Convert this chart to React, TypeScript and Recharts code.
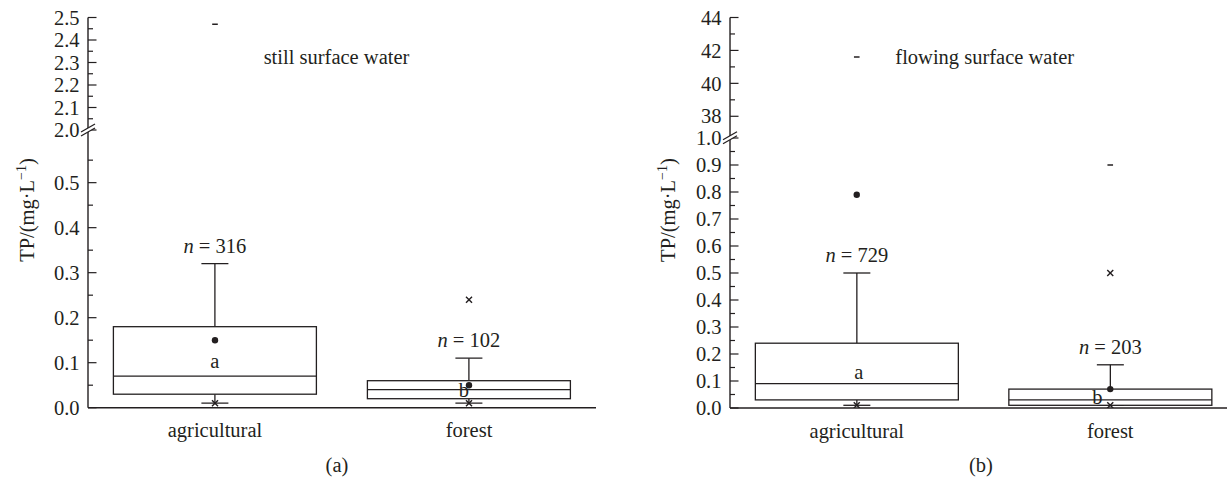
import React from "react"
import { ComposedChart, Bar, Line, XAxis, YAxis } from "recharts"

const categories = ["agricultural", "forest"]

// (a) still surface water
const stillN = [316, 102]
const stillLetters = ["a", "b"]
const stillWhiskerLow = [0.01, 0.01]
const stillQ1 = [0.03, 0.02]
const stillMedian = [0.07, 0.04]
const stillQ3 = [0.18, 0.06]
const stillWhiskerHigh = [0.32, 0.11]
const stillMean = [0.15, 0.05]
const stillP1 = [0.01, 0.01]
const stillP99 = [null, 0.24]
const stillMax = [2.47, null]
const stillUpperDomain = [2.0, 2.5]
const stillLowerDomain = [0, 0.617]
const stillUpperMajor = [2.0, 2.1, 2.2, 2.3, 2.4, 2.5]
const stillUpperMinor = [2.05, 2.15, 2.25, 2.35, 2.45]
const stillLowerMajor = [0, 0.1, 0.2, 0.3, 0.4, 0.5]
const stillLowerMinor = [0.05, 0.15, 0.25, 0.35, 0.45, 0.55]

// (b) flowing surface water
const flowN = [729, 203]
const flowLetters = ["a", "b"]
const flowWhiskerLow = [0.01, 0.01]
const flowQ1 = [0.03, 0.01]
const flowMedian = [0.09, 0.03]
const flowQ3 = [0.24, 0.07]
const flowWhiskerHigh = [0.5, 0.16]
const flowMean = [0.79, 0.07]
const flowP1 = [0.01, 0.01]
const flowP99 = [null, 0.5]
const flowMax = [41.6, 0.9]
const flowUpperDomain = [36.7, 44]
const flowLowerDomain = [0, 1.0]
const flowUpperMajor = [38, 40, 42, 44]
const flowUpperMinor = [39, 41, 43]
const flowLowerMajor = [0, 0.1, 0.2, 0.3, 0.4, 0.5, 0.6, 0.7, 0.8, 0.9, 1.0]
const flowLowerMinor = [0.05, 0.15, 0.25, 0.35, 0.45, 0.55, 0.65, 0.75, 0.85, 0.95]

const INK = "#231f20"
const FONT = '"Liberation Serif", "Times New Roman", serif'
const FS = 20.5
const PLOT_TOP = 17.5
const PLOT_BOTTOM = 407.7
const H = 478
const YAXIS_W = 60
const OVERLAP = 20
const TICK_MARGIN = 8.5
const CAP_W = 27

type Stats = {
  n: number[]
  letters: string[]
  lo: number[]
  q1: number[]
  med: number[]
  q3: number[]
  hi: number[]
  mean: (number | null)[]
  p1: (number | null)[]
  p99: (number | null)[]
  max: (number | null)[]
}

const still: Stats = {
  n: stillN, letters: stillLetters, lo: stillWhiskerLow, q1: stillQ1, med: stillMedian,
  q3: stillQ3, hi: stillWhiskerHigh, mean: stillMean, p1: stillP1, p99: stillP99, max: stillMax,
}
const flow: Stats = {
  n: flowN, letters: flowLetters, lo: flowWhiskerLow, q1: flowQ1, med: flowMedian,
  q3: flowQ3, hi: flowWhiskerHigh, mean: flowMean, p1: flowP1, p99: flowP99, max: flowMax,
}

function rowsFor(s: Stats, domain: number[], withBox: boolean) {
  const keep = (v: number | null) => (v != null && v >= domain[0] && v <= domain[1] ? v : null)
  return categories.map((name, i) => ({
    name,
    box: withBox ? [s.lo[i], s.hi[i]] : null,
    lo: s.lo[i],
    q1: s.q1[i],
    med: s.med[i],
    q3: s.q3[i],
    hi: s.hi[i],
    n: s.n[i],
    letter: s.letters[i],
    mean: keep(s.mean[i]),
    p1: keep(s.p1[i]),
    p99: keep(s.p99[i]),
    max: keep(s.max[i]),
  }))
}

// box + whiskers, positions taken from the bar the library laid out for [lo, hi]
const BoxShape = (props: any) => {
  const { x, y, width, height, payload, index, letterDx } = props
  if (!payload || !payload.box || height == null || isNaN(height)) return <g />
  const [lo, hi] = payload.box
  const top = Math.min(y, y + height)
  const h = Math.abs(height)
  const py = (v: number) => top + (h * (hi - v)) / (hi - lo)
  const cx = x + width / 2
  const yq1 = py(payload.q1)
  const yq3 = py(payload.q3)
  const ldx = letterDx ? letterDx[index] || 0 : 0
  return (
    <g>
      <line x1={cx} x2={cx} y1={py(hi)} y2={yq3} stroke={INK} strokeWidth={1.3} />
      <line x1={cx} x2={cx} y1={yq1} y2={py(lo)} stroke={INK} strokeWidth={1.3} />
      <line x1={cx - CAP_W / 2} x2={cx + CAP_W / 2} y1={py(hi)} y2={py(hi)} stroke={INK} strokeWidth={1.3} />
      <line x1={cx - CAP_W / 2} x2={cx + CAP_W / 2} y1={py(lo)} y2={py(lo)} stroke={INK} strokeWidth={1.3} />
      <rect x={x} y={yq3} width={width} height={yq1 - yq3} fill="#fff" stroke={INK} strokeWidth={1.3} />
      <line x1={x} x2={x + width} y1={py(payload.med)} y2={py(payload.med)} stroke={INK} strokeWidth={1.3} />
      <text x={cx} y={py(hi) - 11} textAnchor="middle" fontSize={FS} fontFamily={FONT} fill={INK}>
        <tspan fontStyle="italic">n</tspan> = {payload.n}
      </text>
      <text x={cx + ldx} y={(yq1 + yq3) / 2} dy="0.35em" textAnchor="middle" fontSize={FS} fontFamily={FONT} fill={INK}>
        {payload.letter}
      </text>
    </g>
  )
}

const MeanDot = (p: any) =>
  p.cx == null || p.cy == null ? <g key={p.index} /> : <circle key={p.index} cx={p.cx} cy={p.cy} r={3.2} fill={INK} />

const CrossMark = (p: any) =>
  p.cx == null || p.cy == null ? (
    <g key={p.index} />
  ) : (
    <g key={p.index} stroke={INK} strokeWidth={1.4}>
      <line x1={p.cx - 3} y1={p.cy - 3} x2={p.cx + 3} y2={p.cy + 3} />
      <line x1={p.cx - 3} y1={p.cy + 3} x2={p.cx + 3} y2={p.cy - 3} />
    </g>
  )

const DashMark = (p: any) =>
  p.cx == null || p.cy == null ? (
    <g key={p.index} />
  ) : (
    <line key={p.index} x1={p.cx - 2.8} x2={p.cx + 2.8} y1={p.cy} y2={p.cy} stroke={INK} strokeWidth={1.6} />
  )

const makeTick = (major: number[], decimals: number) => (props: any) => {
  const { x, y, payload } = props
  const v = payload.value
  const isMajor = major.some((m) => Math.abs(m - v) < 1e-9)
  const ax = x + TICK_MARGIN
  return (
    <g>
      <line x1={ax} x2={ax + (isMajor ? 8.5 : 5)} y1={y} y2={y} stroke={INK} strokeWidth={1.2} />
      {isMajor && (
        <text x={x} y={y} dy="0.35em" textAnchor="end" fontSize={FS} fontFamily={FONT} fill={INK}>
          {v.toFixed(decimals)}
        </text>
      )}
    </g>
  )
}

const axisLine = { stroke: INK, strokeWidth: 1.4 }

function Markers() {
  return null
}

function BrokenBoxPanel({
  stats,
  left,
  chartWidth,
  marginLeft,
  marginRight,
  joinY,
  upperDomain,
  lowerDomain,
  upperMajor,
  upperMinor,
  lowerMajor,
  lowerMinor,
  upperDecimals,
  lowerDecimals,
  letterDx,
}: any) {
  const upperRows = rowsFor(stats, upperDomain, false)
  const lowerRows = rowsFor(stats, lowerDomain, true)
  const upperH = joinY + OVERLAP
  const lowerTop = joinY - OVERLAP
  const lowerH = H - lowerTop
  const xAxisH = H - PLOT_BOTTOM

  const series = [
    <Line key="mean" dataKey="mean" stroke="none" dot={MeanDot} activeDot={false} isAnimationActive={false} legendType="none" />,
    <Line key="p1" dataKey="p1" stroke="none" dot={CrossMark} activeDot={false} isAnimationActive={false} legendType="none" />,
    <Line key="p99" dataKey="p99" stroke="none" dot={CrossMark} activeDot={false} isAnimationActive={false} legendType="none" />,
    <Line key="max" dataKey="max" stroke="none" dot={DashMark} activeDot={false} isAnimationActive={false} legendType="none" />,
  ]

  return (
    <>
      <div style={{ position: "absolute", left, top: 0, width: chartWidth, height: upperH }}>
        <ComposedChart
          width={chartWidth}
          height={upperH}
          data={upperRows}
          barCategoryGap="10%"
          margin={{ top: PLOT_TOP, right: marginRight, bottom: OVERLAP, left: marginLeft }}
        >
          <XAxis dataKey="name" orientation="top" scale="band" height={0} tick={false} tickLine={false} axisLine={axisLine} />
          <YAxis
            type="number"
            domain={upperDomain}
            allowDataOverflow
            ticks={[...upperMajor, ...upperMinor].sort((a, b) => a - b)}
            interval={0}
            width={YAXIS_W}
            tickSize={0}
            tickMargin={TICK_MARGIN}
            tickLine={false}
            axisLine={axisLine}
            tick={makeTick(upperMajor, upperDecimals)}
          />
          <YAxis yAxisId="r" orientation="right" width={0} domain={[0, 1]} tick={false} tickLine={false} axisLine={axisLine} />
          <Bar dataKey={(d: any) => d.box} shape={(p: any) => <BoxShape {...p} letterDx={letterDx} />} isAnimationActive={false} />
          {series}
        </ComposedChart>
      </div>
      <div style={{ position: "absolute", left, top: lowerTop, width: chartWidth, height: lowerH }}>
        <ComposedChart
          width={chartWidth}
          height={lowerH}
          data={lowerRows}
          barCategoryGap="10%"
          margin={{ top: OVERLAP, right: marginRight, bottom: 0, left: marginLeft }}
        >
          <XAxis
            dataKey="name"
            scale="band"
            height={xAxisH}
            interval={0}
            tickLine={false}
            tickSize={0}
            tickMargin={15}
            axisLine={axisLine}
            tick={{ fill: INK, fontSize: FS, fontFamily: FONT }}
          />
          <YAxis
            type="number"
            domain={lowerDomain}
            allowDataOverflow
            ticks={[...lowerMajor, ...lowerMinor].sort((a, b) => a - b)}
            interval={0}
            width={YAXIS_W}
            tickSize={0}
            tickMargin={TICK_MARGIN}
            tickLine={false}
            axisLine={axisLine}
            tick={makeTick(lowerMajor, lowerDecimals)}
          />
          <YAxis yAxisId="r" orientation="right" width={0} domain={[0, 1]} tick={false} tickLine={false} axisLine={axisLine} />
          <Bar dataKey={(d: any) => d.box} shape={(p: any) => <BoxShape {...p} letterDx={letterDx} />} isAnimationActive={false} />
          {series}
        </ComposedChart>
      </div>
    </>
  )
}

function BreakMark({ x, y }: { x: number; y: number }) {
  const c = y + 1
  return (
    <g>
      <polygon points={`${x - 7},${c + 1} ${x + 7},${c - 7} ${x + 7},${c - 3} ${x - 7},${c + 5}`} fill="#fff" />
      <line x1={x - 7} y1={c + 1} x2={x + 7} y2={c - 7} stroke={INK} strokeWidth={1.3} />
      <line x1={x - 7} y1={c + 5} x2={x + 7} y2={c - 3} stroke={INK} strokeWidth={1.3} />
    </g>
  )
}

function YTitle({ x, y }: { x: number; y: number }) {
  return (
    <text
      x={x}
      y={y}
      dy="0.35em"
      transform={`rotate(-90, ${x}, ${y})`}
      textAnchor="middle"
      fontSize={FS}
      fontFamily={FONT}
      fill={INK}
    >
      TP/(mg·L
      <tspan dy={-8} fontSize={14}>−1</tspan>
      <tspan dy={8}>)</tspan>
    </text>
  )
}

export default function App() {
  return (
    <div
      style={{
        position: "absolute",
        left: 0,
        top: 0,
        width: 1227,
        height: H,
        overflow: "hidden",
        background: "#fff",
        fontFamily: FONT,
      }}
    >
      <BrokenBoxPanel
        stats={still}
        left={0}
        chartWidth={620}
        marginLeft={28}
        marginRight={24}
        joinY={130}
        upperDomain={stillUpperDomain}
        lowerDomain={stillLowerDomain}
        upperMajor={stillUpperMajor}
        upperMinor={stillUpperMinor}
        lowerMajor={stillLowerMajor}
        lowerMinor={stillLowerMinor}
        upperDecimals={1}
        lowerDecimals={1}
        letterDx={[0, -5]}
      />
      <BrokenBoxPanel
        stats={flow}
        left={620}
        chartWidth={640}
        marginLeft={50}
        marginRight={23}
        joinY={137.7}
        upperDomain={flowUpperDomain}
        lowerDomain={flowLowerDomain}
        upperMajor={flowUpperMajor}
        upperMinor={flowUpperMinor}
        lowerMajor={flowLowerMajor}
        lowerMinor={flowLowerMinor}
        upperDecimals={0}
        lowerDecimals={1}
        letterDx={[2, -13]}
      />
      <svg width={1227} height={H} style={{ position: "absolute", left: 0, top: 0, pointerEvents: "none" }}>
        <BreakMark x={88} y={130} />
        <BreakMark x={730} y={137.7} />
        <YTitle x={27} y={210} />
        <YTitle x={668} y={210} />
        <text x={336.5} y={64} textAnchor="middle" fontSize={FS} fontFamily={FONT} fill={INK}>
          still surface water
        </text>
        <text x={984.7} y={64} textAnchor="middle" fontSize={FS} fontFamily={FONT} fill={INK}>
          flowing surface water
        </text>
        <text x={337} y={472} textAnchor="middle" fontSize={FS} fontFamily={FONT} fill={INK}>
          (a)
        </text>
        <text x={981} y={472} textAnchor="middle" fontSize={FS} fontFamily={FONT} fill={INK}>
          (b)
        </text>
      </svg>
    </div>
  )
}
